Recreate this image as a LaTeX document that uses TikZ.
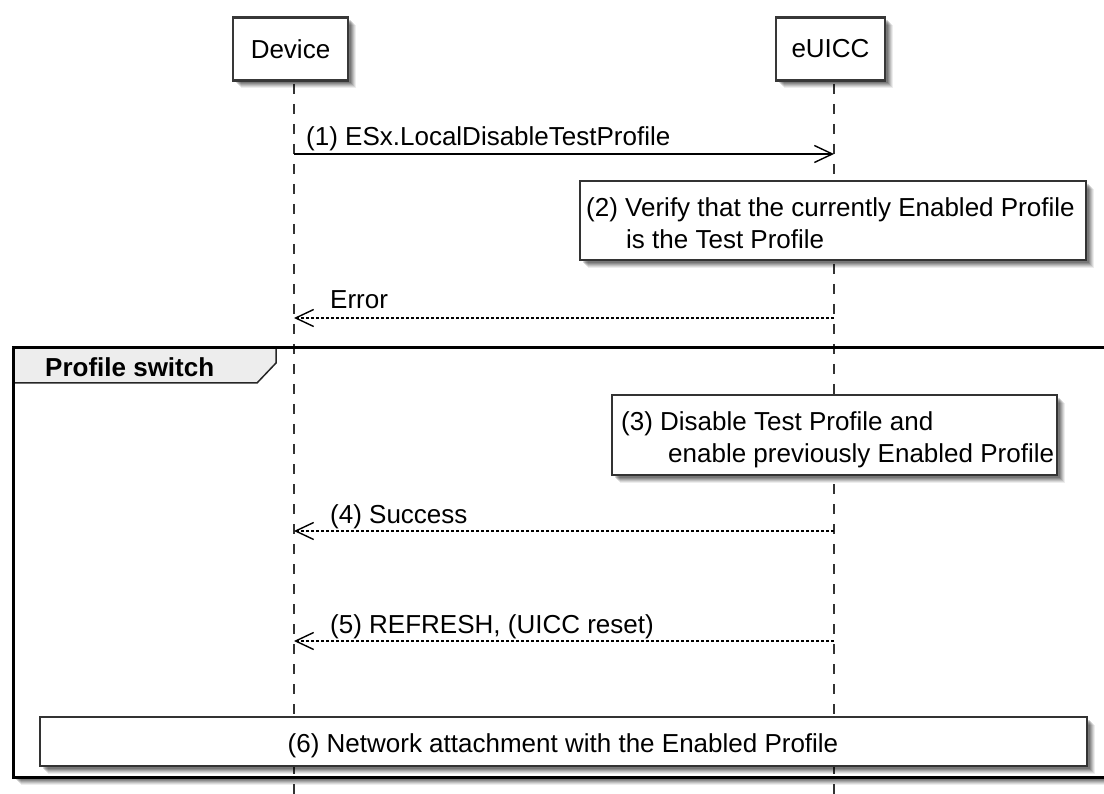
\documentclass[tikz,border=0pt]{standalone}
\usepackage{fontspec}
\setmainfont{Liberation Sans}
\usetikzlibrary{arrows.meta,shadows}
\begin{document}
\begin{tikzpicture}[x=1pt,y=-1pt,
  font=\fontsize{26}{30}\selectfont,
  shade/.style={
    drop shadow={shadow xshift=8pt,shadow yshift=-8pt,fill=black,opacity=.07},
    drop shadow={shadow xshift=7pt,shadow yshift=-7pt,fill=black,opacity=.09},
    drop shadow={shadow xshift=6pt,shadow yshift=-6pt,fill=black,opacity=.11},
    drop shadow={shadow xshift=5pt,shadow yshift=-5pt,fill=black,opacity=.13},
    drop shadow={shadow xshift=4pt,shadow yshift=-4pt,fill=black,opacity=.15},
    drop shadow={shadow xshift=3pt,shadow yshift=-3pt,fill=black,opacity=.15}},
  participant/.style={draw=black!78, line width=2.5pt, fill=white,
    minimum height=63pt, inner sep=0pt, shade},
  lifeline/.style={draw=black!80, line width=1.2pt, dash pattern=on 10pt off 10pt},
  notebox/.style={draw=black!80, line width=1.5pt, fill=white, inner sep=0pt, shade},
  lbl/.style={anchor=base west, inner sep=0pt},
  syncmsg/.style={line width=1.4pt,
    -{Straight Barb[length=18pt,width=17pt,line width=1.4pt]}},
  retmsg/.style={line width=1.2pt, dash pattern=on 3pt off 2pt,
    -{Straight Barb[length=18pt,width=17pt,line width=1.4pt]}}
]
\useasboundingbox (0,0) rectangle (1104,794);
\fill[white] (0,0) rectangle (1104,794);

% group frame background with shadow
\path[fill=white, shade] (13,348) rectangle (1116,777);

% lifelines
\coordinate (devtop) at (294,84);
\coordinate (devbot) at (294,794);
\coordinate (euitop) at (834,84);
\coordinate (euibot) at (834,794);
\draw[lifeline] (devtop) -- (devbot);
\draw[lifeline] (euitop) -- (euibot);

% group frame border and tab
\draw[line width=3pt, black] (13,348) rectangle (1116,777);
\draw[line width=1.5pt, draw=black!85, fill=black!7]
  (13,348) -- (276,348) -- (276,363) -- (257,383) -- (13,383) -- cycle;
\draw[line width=3pt, black] (13,348) -- (1116,348);
\draw[line width=3pt, black] (13,348) -- (13,777);
\node[lbl, font=\fontsize{26}{30}\selectfont\bfseries] (grp) at (45,377) {Profile switch};

% participants
\node[participant, minimum width=115pt] (dev) at (290.5,49) {Device};
\node[participant, minimum width=109pt] (eui) at (830.5,49) {eUICC};

% message 1
\coordinate (m1a) at (294,154);
\coordinate (m1b) at (834,154);
\draw[syncmsg] (m1a) -- (m1b);
\node[lbl] (t1) at (306,146) {(1) ESx.LocalDisableTestProfile};

% note 2
\node[notebox, minimum width=506pt, minimum height=79pt] (n2) at (833,220.5) {};
\node[lbl] (t2a) at (586,217) {(2) Verify that the currently Enabled Profile};
\node[lbl] (t2b) at (626,249) {is the Test Profile};

% error
\coordinate (m2a) at (834,318);
\coordinate (m2b) at (294,318);
\draw[retmsg] (m2a) -- (m2b);
\node[lbl] (t3) at (330,309) {Error};

% note 3
\node[notebox, minimum width=445pt, minimum height=80pt] (n3) at (834.5,435) {};
\node[lbl] (t4a) at (621,431) {(3) Disable Test Profile and};
\node[lbl] (t4b) at (668,463) {enable previously Enabled Profile};

% message 4
\coordinate (m4a) at (834,531);
\coordinate (m4b) at (294,531);
\draw[retmsg] (m4a) -- (m4b);
\node[lbl] (t5) at (330,523) {(4) Success};

% message 5
\coordinate (m5a) at (834,641);
\coordinate (m5b) at (294,641);
\draw[retmsg] (m5a) -- (m5b);
\node[lbl] (t6) at (330,633) {(5) REFRESH, (UICC reset)};

% note 6
\node[notebox, minimum width=1047pt, minimum height=49pt] (n6) at (563.5,741.5) {};
\node[anchor=base, inner sep=0pt] (t7) at (563,752) {(6) Network attachment with the Enabled Profile};
\end{tikzpicture}
\end{document}
